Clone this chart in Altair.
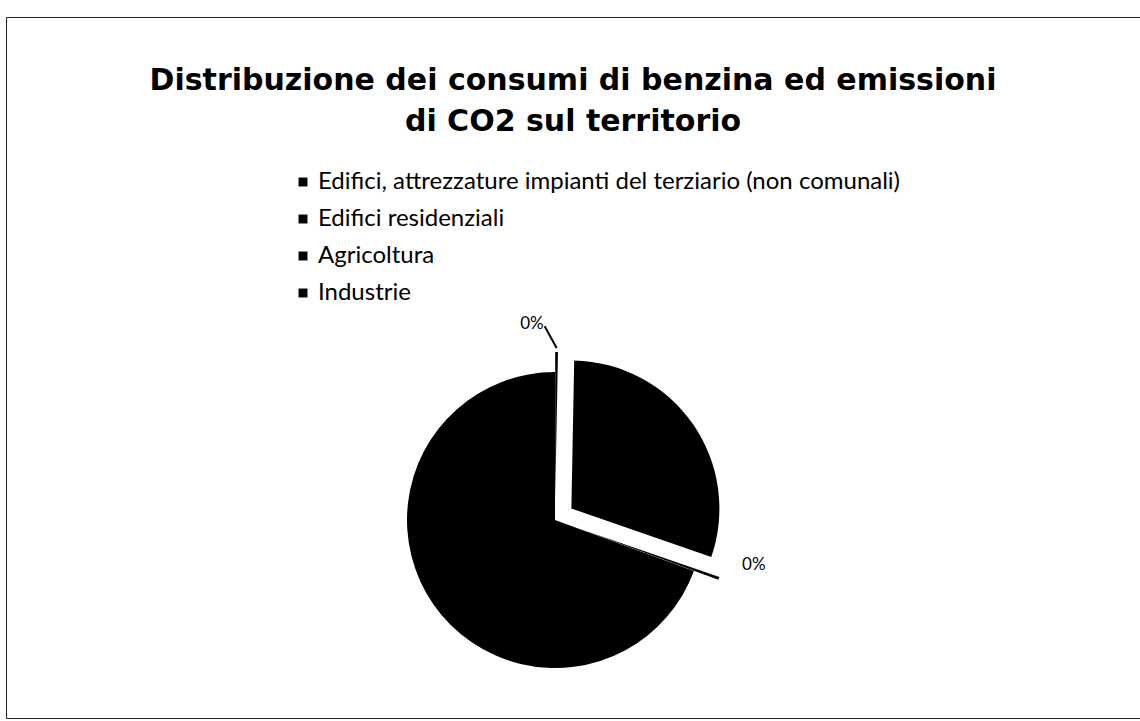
import altair as alt
import pandas as pd

# ---- data ----
categories = [
    "Edifici, attrezzature impianti del terziario (non comunali)",
    "Edifici residenziali",
    "Agricoltura",
    "Industrie",
]
values = [0.3, 30.0, 0.3, 69.4]          # percent shares (two tiny slices shown as 0%)
title_lines = [
    "Distribuzione dei consumi di benzina ed emissioni",
    "di CO2 sul territorio",
]

# ---- styling (not data) ----
explode_px = [20, 20, 26, 0]   # how far each slice is pulled out
CX, CY, R = 549, 503, 148      # pie centre (view px) and radius

df = pd.DataFrame({
    "categoria": categories,
    "valore": values,
    "ordine": list(range(len(categories))),
    "esplodi": explode_px,
})

base = (
    alt.Chart(df)
    .transform_joinaggregate(totale="sum(valore)")
    .transform_window(cum="sum(valore)", sort=[alt.SortField("ordine")], frame=[None, 0])
    .transform_calculate(
        t0="2*PI*(datum.cum - datum.valore)/datum.totale",
        t1="2*PI*datum.cum/datum.totale",
        mid="PI*(2*datum.cum - datum.valore)/datum.totale",
        pct="datum.valore/datum.totale",
    )
    .transform_calculate(
        px=f"{CX} + datum.esplodi*sin(datum.mid)",
        py=f"{CY} - datum.esplodi*cos(datum.mid)",
    )
)

pie = base.mark_arc(outerRadius=R, strokeWidth=0).encode(
    x=alt.X("px:Q", scale=None, axis=None),
    y=alt.Y("py:Q", scale=None, axis=None),
    theta=alt.Theta("t0:Q", scale=None),
    theta2="t1:Q",
    color=alt.Color(
        "categoria:N",
        scale=alt.Scale(domain=categories, range=["#000000"] * len(categories)),
        legend=alt.Legend(
            orient="none",
            legendX=285,
            legendY=153,
            title=None,
            symbolType="square",
            symbolSize=80,
            symbolStrokeWidth=0,
            labelFont="Lato",
            labelFontSize=24,
            labelColor="#000000",
            labelOffset=3,
            labelLimit=900,
            rowPadding=13,
        ),
    ),
)

small = base.transform_filter("datum.pct < 0.005").transform_calculate(
    lx=f"datum.px + ({R}+30)*sin(datum.mid - 0.14)",
    ly=f"datum.py - ({R}+30)*cos(datum.mid - 0.14)",
    testo="format(datum.pct, '.0%')",
    r1x=f"datum.px + ({R}+4)*sin(datum.mid)",
    r1y=f"datum.py - ({R}+4)*cos(datum.mid)",
    r2x=f"datum.px + ({R}+26)*sin(datum.mid - 0.07)",
    r2y=f"datum.py - ({R}+26)*cos(datum.mid - 0.07)",
)

labels = small.mark_text(font="Lato", fontSize=17, color="#000000").encode(
    x=alt.X("lx:Q", scale=None, axis=None),
    y=alt.Y("ly:Q", scale=None, axis=None),
    text="testo:N",
)

leader = small.transform_filter("datum.mid < 0.5").mark_rule(color="#000000", strokeWidth=2).encode(
    x=alt.X("r1x:Q", scale=None, axis=None),
    y=alt.Y("r1y:Q", scale=None, axis=None),
    x2="r2x:Q",
    y2="r2y:Q",
)

chart = (
    alt.layer(pie, leader, labels)
    .properties(
        width=1134,
        height=701,
        autosize=alt.AutoSizeParams(type="none"),
        padding={"left": 6, "top": 17, "right": 0, "bottom": 3},
        background="#ffffff",
        title=alt.TitleParams(
            text=title_lines,
            font="DejaVu Sans",
            fontSize=30,
            fontWeight="bold",
            color="#000000",
            anchor="middle",
            frame="group",
            baseline="top",
            offset=0,
            dy=120,
            lineHeight=41,
        ),
    )
    .configure_view(stroke="#222222", strokeWidth=1)
)

chart.save("out.html", embed_options={"renderer": "svg", "actions": False})
